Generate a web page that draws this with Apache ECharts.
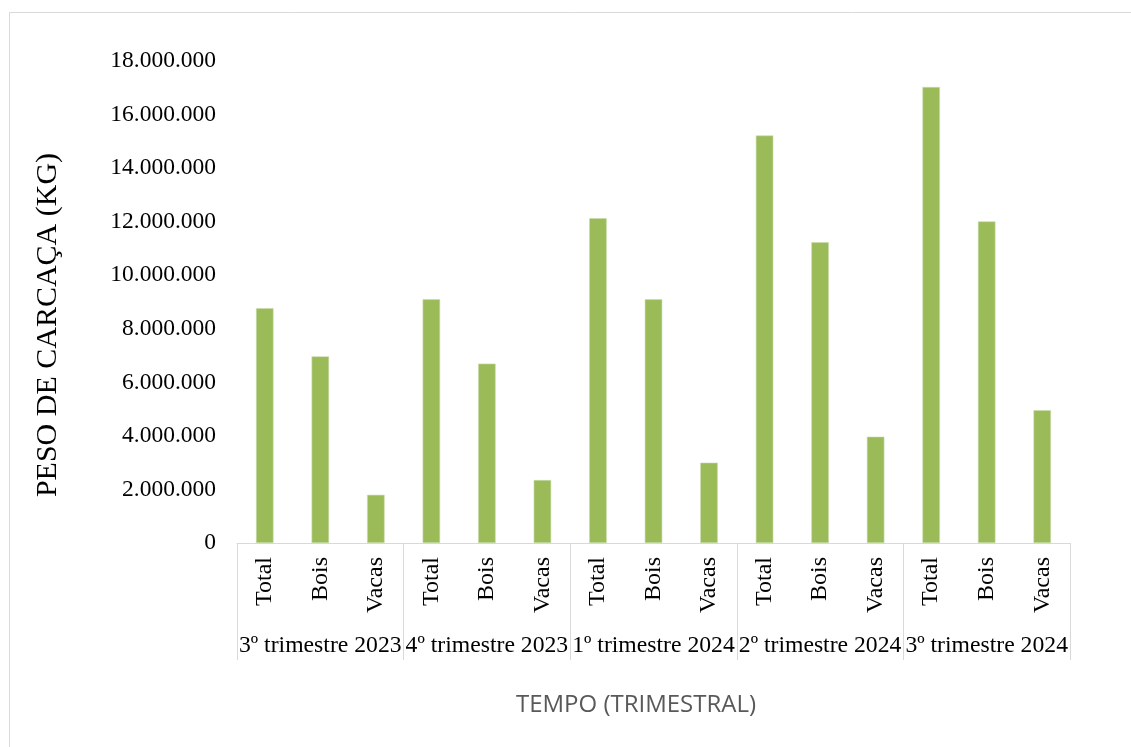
<!DOCTYPE html>
<html>
<head>
<meta charset="utf-8">
<script src="https://cdn.jsdelivr.net/npm/echarts@6/dist/echarts.min.js"></script>
<style>
  html, body { margin: 0; padding: 0; background: #fff; }
  #chart { width: 1131px; height: 747px; }
</style>
</head>
<body>
<div id="chart"></div>
<script>
// Quarters (outer category level) and animal groups (inner level)
const quarters = ['3º trimestre 2023', '4º trimestre 2023', '1º trimestre 2024', '2º trimestre 2024', '3º trimestre 2024'];
const groups = ['Total', 'Bois', 'Vacas'];

// Carcass weight (kg) per quarter
const totals = [8770000, 9100000, 12130000, 15220000, 17030000];
const bois   = [6970000, 6700000, 9100000, 11230000, 12010000];
const vacas  = [1800000, 2350000, 3000000, 3970000, 4960000];

const yMin = 0, yMax = 18000000, yStep = 2000000;

// Flatten into one category per bar: Total, Bois, Vacas for each quarter
const innerLabels = [];
const values = [];
quarters.forEach((q, i) => {
  innerLabels.push(groups[0], groups[1], groups[2]);
  values.push(totals[i], bois[i], vacas[i]);
});

const fmt = v => String(v).replace(/\B(?=(\d{3})+(?!\d))/g, '.');

const serif = 'Liberation Serif, Times New Roman, serif';
const lineGray = '#d9d9d9';

const chart = echarts.init(document.getElementById('chart'));
chart.setOption({
  animation: false,
  backgroundColor: '#ffffff',
  grid: { left: 237, right: 61, top: 61, bottom: 204, containLabel: false },
  xAxis: [
    {
      type: 'category',
      data: innerLabels,
      position: 'bottom',
      boundaryGap: true,
      axisLine: { show: true, lineStyle: { color: lineGray, width: 1 } },
      axisTick: { show: false },
      splitLine: { show: false },
      axisLabel: {
        interval: 0, rotate: 90, margin: 14,
        fontFamily: serif, fontSize: 24, color: '#000'
      }
    },
    {
      type: 'category',
      data: quarters,
      position: 'bottom',
      offset: 0,
      boundaryGap: true,
      axisLine: { show: false },
      axisTick: { show: true, interval: 0, length: 117, lineStyle: { color: lineGray, width: 1 } },
      splitLine: { show: false },
      axisLabel: {
        interval: 0, margin: 91,
        fontFamily: serif, fontSize: 23.7, color: '#000'
      }
    }
  ],
  yAxis: {
    type: 'value',
    min: yMin, max: yMax, interval: yStep,
    axisLine: { show: false },
    axisTick: { show: false },
    splitLine: { show: false },
    axisLabel: {
      margin: 21,
      fontFamily: serif, fontSize: 23.5, color: '#000',
      formatter: fmt
    }
  },
  series: [{
    type: 'bar',
    xAxisIndex: 0,
    data: values,
    barWidth: 17.5,
    itemStyle: { color: '#9bbb59', borderColor: '#c9dbac', borderWidth: 0.6 }
  }],
  graphic: [
    {
      type: 'rect',
      shape: { x: 9.5, y: 12.5, width: 1300, height: 900 },
      style: { fill: 'none', stroke: lineGray, lineWidth: 1 },
      silent: true, z: -1
    },
    {
      type: 'text',
      x: 48, y: 325, rotation: Math.PI / 2,
      style: {
        text: 'PESO DE CARCAÇA (KG)',
        fontFamily: serif, fontSize: 30, fill: '#000',
        align: 'center', verticalAlign: 'middle'
      }
    },
    {
      type: 'text',
      x: 636, y: 705,
      style: {
        text: 'TEMPO (TRIMESTRAL)',
        fontFamily: 'Open Sans, DejaVu Sans, sans-serif', fontSize: 24, fill: '#595959',
        align: 'center', verticalAlign: 'middle'
      }
    }
  ]
});
</script>
</body>
</html>
